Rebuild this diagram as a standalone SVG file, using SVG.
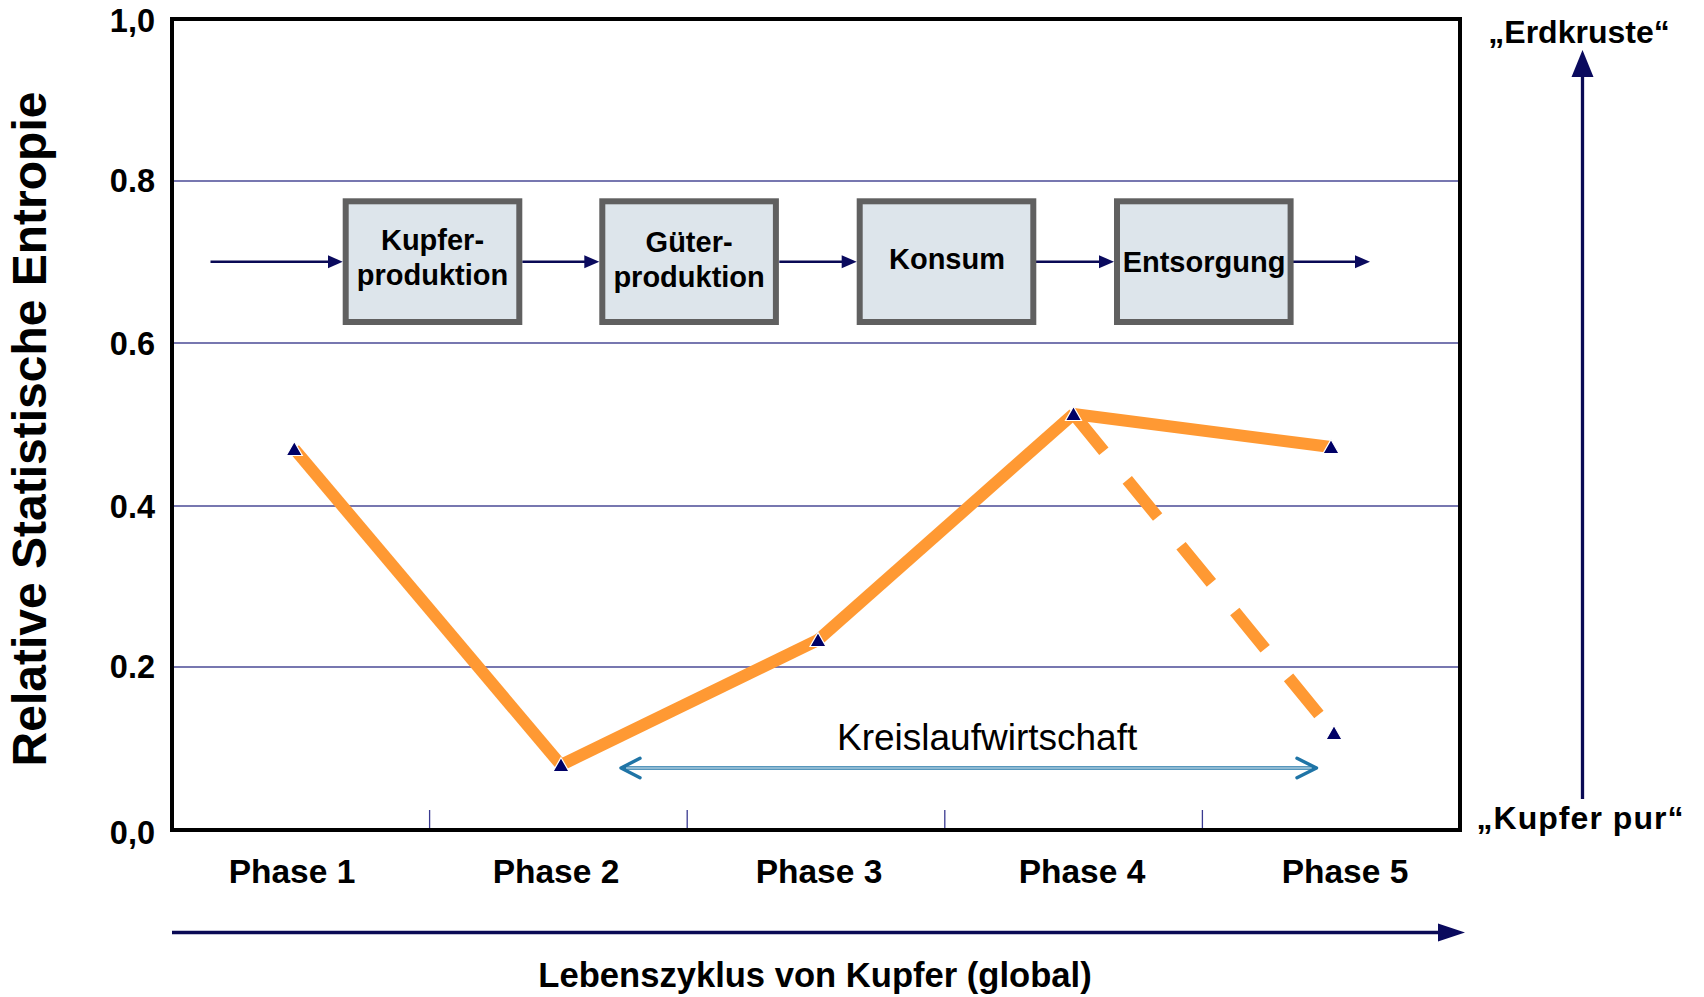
<svg xmlns="http://www.w3.org/2000/svg" width="1704" height="997" viewBox="0 0 1704 997">
<style>
text{font-family:"Liberation Sans",Arial,sans-serif;fill:#000}
.b{font-weight:bold}
.ylab{font-size:32.5px;font-weight:bold;text-anchor:end}
.ph{font-size:33.5px;font-weight:bold;text-anchor:middle}
.bx{font-size:29px;font-weight:bold;text-anchor:middle}
.grid{stroke:#4a4a96;stroke-width:1.4}
.tick{stroke:#3a3a90;stroke-width:1.3}
.box{fill:#dde5eb;stroke:#606060;stroke-width:6}
.flow{stroke:#0a0a55;stroke-width:2.6;fill:none}
.ah{fill:#0a0a5e}
.orange{stroke:#ff9933;stroke-width:12;fill:none;stroke-linecap:butt}
.mk{fill:#000066;stroke:#ffffff;stroke-width:1.2}
.kw{stroke:#1f74a6;stroke-width:3.4;fill:none;stroke-linecap:round;stroke-linejoin:round}
</style>
<defs>
<path id="tri" d="M0,-7.5 L8,6.5 L-8,6.5 Z"/>
</defs>
<rect width="1704" height="997" fill="#ffffff"/>

<g id="grid">
<line class="grid" x1="172" y1="181" x2="1460" y2="181"/>
<line class="grid" x1="172" y1="343" x2="1460" y2="343"/>
<line class="grid" x1="172" y1="506" x2="1460" y2="506"/>
<line class="grid" x1="172" y1="667" x2="1460" y2="667"/>
<line class="tick" x1="429.6" y1="810" x2="429.6" y2="830"/>
<line class="tick" x1="687.2" y1="810" x2="687.2" y2="830"/>
<line class="tick" x1="944.8" y1="810" x2="944.8" y2="830"/>
<line class="tick" x1="1202.4" y1="810" x2="1202.4" y2="830"/>
</g>

<g id="frame">
<rect x="172" y="19" width="1288" height="811" fill="none" stroke="#000" stroke-width="4"/>
</g>

<g id="y-axis">
<text class="ylab" x="155" y="32">1,0</text>
<text class="ylab" x="155" y="192">0.8</text>
<text class="ylab" x="155" y="355">0.6</text>
<text class="ylab" x="155" y="518">0.4</text>
<text class="ylab" x="155" y="678">0.2</text>
<text class="ylab" x="155" y="844">0,0</text>
<text class="b" font-size="48" text-anchor="middle" transform="translate(46,429) rotate(-90)">Relative Statistische Entropie</text>
</g>

<g id="x-axis">
<text class="ph" x="292" y="883">Phase 1</text>
<text class="ph" x="556" y="883">Phase 2</text>
<text class="ph" x="819" y="883">Phase 3</text>
<text class="ph" x="1082" y="883">Phase 4</text>
<text class="ph" x="1345" y="883">Phase 5</text>
<line x1="172" y1="932.5" x2="1442" y2="932.5" stroke="#0a0a55" stroke-width="3.5"/>
<path class="ah" d="M1465,932.5 L1438,923.5 L1438,941.5 Z"/>
<text class="b" font-size="34.6" text-anchor="middle" x="815" y="987">Lebenszyklus von Kupfer (global)</text>
</g>

<g id="scale-right">
<line x1="1582.5" y1="799" x2="1582.5" y2="74" stroke="#0a0a55" stroke-width="3.3"/>
<path class="ah" d="M1582.5,50 L1593.5,77 L1571.5,77 Z"/>
<text class="b" font-size="32" text-anchor="middle" x="1579" y="42.5">„Erdkruste“</text>
<text class="b" font-size="32" text-anchor="middle" x="1580" y="829" textLength="207" lengthAdjust="spacing">„Kupfer pur“</text>
</g>

<g id="connectors">
<line class="flow" x1="210.5" y1="261.7" x2="330" y2="261.7"/>
<path class="ah" d="M342.7,261.7 L328,255.2 L328,268.2 Z"/>
<line class="flow" x1="522.3" y1="261.7" x2="586" y2="261.7"/>
<path class="ah" d="M599.3,261.7 L584.3,255.2 L584.3,268.2 Z"/>
<line class="flow" x1="779.3" y1="261.7" x2="844" y2="261.7"/>
<path class="ah" d="M856.7,261.7 L841.7,255.2 L841.7,268.2 Z"/>
<line class="flow" x1="1035.7" y1="261.7" x2="1100" y2="261.7"/>
<path class="ah" d="M1114,261.7 L1099,255.2 L1099,268.2 Z"/>
<line class="flow" x1="1292.3" y1="261.7" x2="1357" y2="261.7"/>
<path class="ah" d="M1370,261.7 L1355,255.2 L1355,268.2 Z"/>
</g>

<g id="node-kupferproduktion">
<rect class="box" x="345.7" y="201.3" width="173.6" height="120.7"/>
<text class="bx" x="432.5" y="250">Kupfer-</text>
<text class="bx" x="432.5" y="285">produktion</text>
</g>
<g id="node-gueterproduktion">
<rect class="box" x="602.3" y="201.3" width="173.6" height="120.7"/>
<text class="bx" x="689.1" y="252">Güter-</text>
<text class="bx" x="689.1" y="287">produktion</text>
</g>
<g id="node-konsum">
<rect class="box" x="859.7" y="201.3" width="173.6" height="120.7"/>
<text class="bx" x="947" y="269.3">Konsum</text>
</g>
<g id="node-entsorgung">
<rect class="box" x="1117" y="201.3" width="173.6" height="120.7"/>
<text class="bx" x="1204" y="271.5">Entsorgung</text>
</g>

<g id="data-lines">
<line class="orange" x1="294.3" y1="449" x2="561" y2="765"/>
<line class="orange" x1="561" y1="765" x2="818" y2="640"/>
<line class="orange" x1="818" y1="640" x2="1073.5" y2="414"/>
<line class="orange" x1="1073.5" y1="414" x2="1331" y2="447"/>
<line class="orange" x1="1073.5" y1="414" x2="1334" y2="733" stroke-dasharray="48 37"/>
</g>

<g id="data-points">
<use href="#tri" class="mk" x="294.3" y="449"/>
<use href="#tri" class="mk" x="561" y="765"/>
<use href="#tri" class="mk" x="818" y="640"/>
<use href="#tri" class="mk" x="1073.5" y="414"/>
<use href="#tri" class="mk" x="1331" y="447"/>
<use href="#tri" class="mk" x="1334" y="733"/>
</g>

<g id="kreislauf">
<text font-size="37" x="837" y="750">Kreislaufwirtschaft</text>
<line class="kw" x1="623" y1="768" x2="1315" y2="768"/>
<line x1="626" y1="768" x2="1312" y2="768" stroke="#ffffff" stroke-width="1"/>
<path class="kw" d="M640,758.3 L621,768 L640,777.7"/>
<path class="kw" d="M1297,758.3 L1316.5,768 L1297,777.7"/>
</g>
</svg>
